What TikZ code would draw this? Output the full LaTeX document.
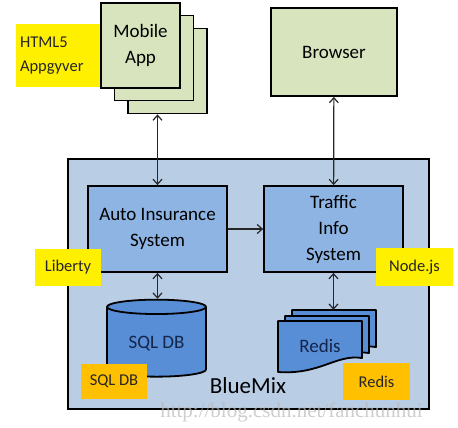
\documentclass[tikz,border=0pt]{standalone}
\usepackage{fontspec}
\setmainfont{Carlito}
\newfontfamily\markfont{Liberation Serif}
\usepackage{tikz}
\usetikzlibrary{shapes.geometric,arrows.meta}

\begin{document}
\begin{tikzpicture}
	[x=1pt,y=-1pt,line cap=round,
	%Styles
	>={Straight Barb[length=5pt,width=9pt]},
	link/.style={line width=1.2pt,black!85},
	cloud/.style={draw,line width=1.8pt,fill=cloudblue,minimum width=361pt,minimum height=250pt},
	app box/.style={draw,line width=1.8pt,fill=appgreen,minimum width=79pt,minimum height=85pt,align=center,font=\fontsize{19}{26}\selectfont},
	system box/.style={draw,line width=1.8pt,fill=sysblue,minimum width=139pt,minimum height=86pt,align=center,font=\fontsize{19}{26}\selectfont},
	db/.style={cylinder,shape border rotate=90,aspect=0.23,draw,line width=1.8pt,fill=dbblue,text=dbtext,font=\fontsize{19}{26}\selectfont},
	redis sheet/.style={draw,line width=1.8pt,fill=dbblue,line join=round},
	tech label/.style={fill=#1,inner sep=0pt,align=left,text=black!85,font=\fontsize{16.5}{24}\selectfont},
	tech label/.default=techyellow
	]
	
	%Colors
	\definecolor{appgreen}{RGB}{215,228,189}
	\definecolor{cloudblue}{RGB}{185,205,229}
	\definecolor{sysblue}{RGB}{142,180,227}
	\definecolor{dbblue}{RGB}{88,142,213}
	\definecolor{dbtext}{RGB}{20,36,74}
	\definecolor{techyellow}{RGB}{255,240,0}
	\definecolor{techorange}{RGB}{255,192,0}
	
	\useasboundingbox (0,0) rectangle (458,428);
	
	%The graphic
	\node[cloud] (bluemix) at (248.5,284) {};
	\node[inner sep=0pt,font=\fontsize{23}{28}\selectfont] (bluemixname) at (248,385.5) {BlueMix};
	
	\node[app box] (app3) at (167.5,71) {};
	\node[app box] (app2) at (154,58) {};
	\node[app box] (app) at (140.5,45.5) {Mobile\\App};
	\node[app box,minimum width=126pt,minimum height=88pt] (browser) at (334,52) {Browser};
	
	\node[system box] (aisys) at (157.5,229) {Auto Insurance\\System};
	\node[system box] (tis) at (333.5,229) {Traffic\\Info\\System};
	
	\node[db,minimum width=99pt,minimum height=77pt] (sqldb) at (156.5,343.5) {SQL DB};
	
	\node[inner sep=0pt,minimum width=99pt,minimum height=62pt] (redisstack) at (327.5,341) {};
	\foreach \dx/\dy in {14/-11,7/-5,0/0}
		\draw[redis sheet,shift={(\dx,\dy)}] (278,321) -- (362,321) -- (362,358)
			.. controls (336,354) and (320,375) .. (278,372) -- cycle;
	\node[text=dbtext,font=\fontsize{19}{26}\selectfont] (redis) at (320,346) {Redis};
	
	\draw[link,<->] (app3.south -| aisys.north) -- (aisys.north);
	\draw[link,<->] (browser) -- (tis);
	\draw[link,->] (aisys) -- (tis);
	\draw[link,<->] (aisys.south) -- (aisys.south |- sqldb.north);
	\draw[link,<->] (tis.south) -- (tis.south |- redisstack.north);
	
	\node[tech label,minimum width=84pt,minimum height=63pt,text width=76pt] (html5) at (58,55.5) {HTML5\\Appgyver};
	\node[tech label,minimum width=66pt,minimum height=37pt] (liberty) at (68,267.5) {Liberty};
	\node[tech label,minimum width=77pt,minimum height=38pt] (nodejs) at (414.5,267) {Node.js};
	\node[tech label=techorange,minimum width=66pt,minimum height=35pt] (sqllabel) at (114,381.5) {SQL DB};
	\node[tech label=techorange,minimum width=67pt,minimum height=37pt] (redislabel) at (376.5,381.5) {Redis};
	
	\node[inner sep=0pt,font=\markfont\fontsize{21}{26}\selectfont,text=gray!55,opacity=.7] (watermark) at (291.5,412.5) {http://blog.csdn.net/fanchunhui};
\end{tikzpicture}
\end{document}
